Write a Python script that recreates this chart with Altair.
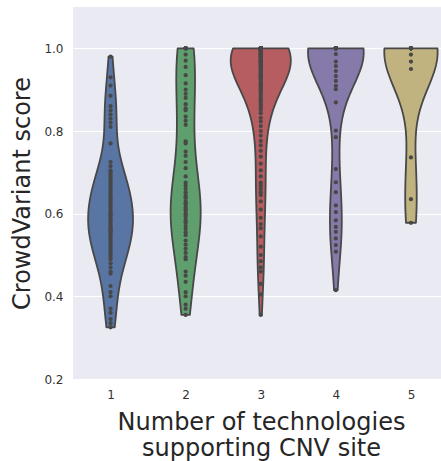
import numpy as np
import pandas as pd
import altair as alt

# CrowdVariant scores grouped by how many technologies support each CNV site
techs = [1, 2, 3, 4, 5]

tech1 = [0.98, 0.93, 0.91, 0.885, 0.86, 0.85, 0.84, 0.83, 0.82, 0.81, 0.77,
         0.725, 0.715, 0.705, 0.70,
         0.695, 0.69, 0.685, 0.68, 0.675, 0.67, 0.665, 0.66, 0.655, 0.65,
         0.645, 0.64, 0.635, 0.63, 0.625, 0.62, 0.615, 0.61, 0.605, 0.60,
         0.598, 0.595, 0.59, 0.587, 0.583, 0.58, 0.575, 0.57, 0.567, 0.563,
         0.56, 0.557, 0.553, 0.55,
         0.545, 0.54, 0.535, 0.53, 0.525, 0.52, 0.515, 0.51, 0.505, 0.50,
         0.495, 0.49, 0.48, 0.47, 0.46, 0.455,
         0.425, 0.41, 0.40, 0.37, 0.36, 0.345, 0.335, 0.325]

tech2 = [1.0] * 8 + [
         0.985, 0.97, 0.955, 0.935, 0.915, 0.90, 0.89, 0.88,
         0.865, 0.855, 0.85, 0.835, 0.825, 0.815,
         0.775, 0.77, 0.75, 0.74, 0.725, 0.71, 0.69,
         0.675, 0.668, 0.66, 0.652, 0.645, 0.64, 0.638, 0.63, 0.625, 0.622,
         0.615, 0.61, 0.607, 0.60, 0.597, 0.593, 0.585, 0.58, 0.578, 0.57,
         0.563, 0.555, 0.548,
         0.535, 0.525, 0.515, 0.505, 0.495, 0.49,
         0.46, 0.45, 0.435, 0.41, 0.40, 0.38, 0.37, 0.355]

tech3 = ([1.0] * 28 + [0.995] * 4 + [0.99] * 4 + [0.985] * 4 + [0.98] * 4
         + [0.975] * 3 + [0.97] * 4 + [0.965] * 3 + [0.96] * 3 + [0.955] * 3
         + [0.95] * 3 + [0.945] * 2 + [0.94] * 2 + [0.935] * 2 + [0.93] * 2 + [
         0.925, 0.92, 0.917, 0.913, 0.91, 0.907, 0.903, 0.90, 0.897,
         0.893, 0.888, 0.882, 0.877, 0.872, 0.866, 0.861, 0.856, 0.851,
         0.843, 0.832, 0.823, 0.812, 0.80, 0.789, 0.776, 0.765, 0.752,
         0.738, 0.721, 0.705, 0.69, 0.675, 0.668, 0.66, 0.652, 0.645, 0.63,
         0.61, 0.59, 0.575, 0.565, 0.545, 0.52, 0.50, 0.485, 0.47, 0.46,
         0.43, 0.405, 0.355])

tech4 = [1.0] * 34 + [
         0.986, 0.968, 0.957, 0.945, 0.933, 0.921, 0.909, 0.901, 0.869,
         0.801, 0.785, 0.708, 0.676, 0.652, 0.62, 0.604, 0.584, 0.568,
         0.556, 0.54, 0.524, 0.508, 0.415]

tech5 = [1.0] * 8 + [0.985, 0.968, 0.95, 0.736, 0.635, 0.578]

scores = [tech1, tech2, tech3, tech4, tech5]

colors = ["#5875A4", "#5F9E6D", "#B55D60", "#857AAA", "#C1B37F"]
edge = "#484848"

points = pd.DataFrame({
    "tech": np.concatenate([[t] * len(s) for t, s in zip(techs, scores)]),
    "score": np.concatenate(scores),
})

# Gaussian KDE per group (Scott's rule), evaluated only over the observed range
curves = []
for t, vals in zip(techs, scores):
    v = np.asarray(vals, dtype=float)
    bw = v.std(ddof=1) * len(v) ** -0.2
    grid = np.linspace(v.min(), v.max(), 100)
    z = (grid[:, None] - v[None, :]) / bw
    dens = np.exp(-0.5 * z ** 2).sum(axis=1) / (len(v) * bw * np.sqrt(2 * np.pi))
    curves.append(pd.DataFrame({"tech": t, "score": grid, "density": dens}))
violins = pd.concat(curves, ignore_index=True)
# equal-area scaling: the densest point of all groups spans 0.8 category units
violins["half"] = violins["density"] / violins["density"].max() * 0.4
violins["lo"] = violins["tech"] - violins["half"]
violins["hi"] = violins["tech"] + violins["half"]

x_scale = alt.Scale(domain=[0.5, 5.4], nice=False, zero=False)
y_scale = alt.Scale(domain=[0.2, 1.1], nice=False, zero=False)

x_axis = alt.Axis(
    values=techs, format="d", grid=False, ticks=False, tickSize=0, domain=False,
    labelPadding=10, labelFontSize=12, labelColor="#333333", labelFont="DejaVu Sans",
    title=["Number of technologies", "supporting CNV site"],
    titleFontSize=24, titleFont="DejaVu Sans", titleFontWeight="normal",
    titleColor="#262626", titlePadding=10, titleLineHeight=26, titleX=188,
    titleAlign="center",
)
y_axis = alt.Axis(
    values=[0.2, 0.4, 0.6, 0.8, 1.0], format=".1f", grid=True, gridColor="white",
    gridWidth=1.2, ticks=False, tickSize=0, domain=False,
    labelPadding=10, labelFontSize=12, labelColor="#333333", labelFont="DejaVu Sans",
    title="CrowdVariant score", titleFontSize=24, titleFont="DejaVu Sans",
    titleFontWeight="normal", titleColor="#262626", titlePadding=9,
)

body = alt.Chart(violins).mark_area(
    orient="horizontal", stroke=edge, strokeWidth=1.8, strokeJoin="round", opacity=1
).encode(
    y=alt.Y("score:Q", scale=y_scale, axis=y_axis),
    x=alt.X("lo:Q", scale=x_scale, axis=x_axis),
    x2="hi:Q",
    color=alt.Color("tech:N", scale=alt.Scale(domain=techs, range=colors), legend=None),
    detail="tech:N",
)

dots = alt.Chart(points).mark_circle(size=18, color=edge, opacity=1).encode(
    x=alt.X("tech:Q", scale=x_scale, axis=x_axis),
    y=alt.Y("score:Q", scale=y_scale, axis=y_axis),
)

chart = alt.layer(body, dots).properties(
    width=368, height=372,
    autosize=alt.AutoSizeParams(type="none"),
    padding={"left": 73, "top": 7, "right": 0, "bottom": 82},
    background="white",
).configure_view(fill="#EAEAF2", strokeWidth=0)

chart.save("out.html", embed_options={"renderer": "svg", "actions": False})
